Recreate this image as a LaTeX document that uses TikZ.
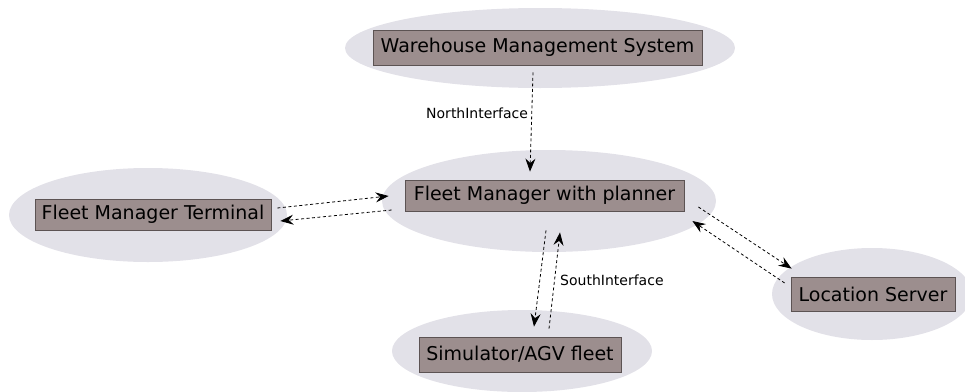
\documentclass[tikz,border=0pt]{standalone}
\usepackage{fontspec}
\setmainfont{DejaVu Sans}
\usetikzlibrary{arrows.meta}

\definecolor{cloudgray}{HTML}{E2E1E8}
\definecolor{boxfill}{HTML}{9C8E8E}
\definecolor{boxline}{HTML}{5C5353}

\begin{document}
\begin{tikzpicture}[x=1pt,y=-1pt,
  box/.style={draw=boxline,fill=boxfill,line width=0.8pt,inner sep=0pt,font=\fontsize{19}{22}\selectfont},
  link/.style={dashed,dash pattern=on 3pt off 2.5pt,line width=0.8pt,-{Stealth[length=13pt,width=10pt,inset=4.5pt]}},
  iface/.style={font=\fontsize{14}{16}\selectfont}]
  \useasboundingbox (0,0) rectangle (965,391);
  \clip (0,0) rectangle (965,391);

  \fill [cloudgray] (540,48) ellipse [x radius=195,y radius=40];
  \fill [cloudgray] (148,215) ellipse [x radius=139,y radius=47];
  \fill [cloudgray] (549,201) ellipse [x radius=167,y radius=51];
  \fill [cloudgray] (522,351) ellipse [x radius=130,y radius=41];
  \fill [cloudgray] (872,294) ellipse [x radius=100,y radius=46];

  \node [box,minimum width=329pt,minimum height=35pt] (wms) at (537.5,47.5) {Warehouse Management System};
  \node [box,minimum width=236pt,minimum height=31pt] (fmt) at (153,214.5) {Fleet Manager Terminal};
  \node [box,minimum width=279pt,minimum height=31pt] (fm) at (544.5,195.5) {Fleet Manager with planner};
  \node [box,minimum width=202pt,minimum height=35pt] (sim) at (520,354.5) {Simulator/AGV fleet};
  \node [box,minimum width=164pt,minimum height=34pt] (ls) at (873,294) {Location Server};

  \draw [link] ([xshift=-4.5pt,yshift=-7pt]wms.south) -- ([xshift=-14.5pt,yshift=8pt]fm.north)
    node [iface,pos=0.41,left] (north) {NorthInterface};

  \draw [link] ([xshift=6pt,yshift=6.5pt]fmt.east) -- ([xshift=-16pt,yshift=-0.5pt]fm.west);
  \draw [link] ([xshift=-13pt,yshift=-14.5pt]fm.west) -- ([xshift=9pt,yshift=-6.5pt]fmt.east);

  \draw [link] ([xshift=1.5pt,yshift=-19pt]fm.south) -- ([xshift=14pt,yshift=10pt]sim.north);
  \draw [link] ([xshift=29pt,yshift=8pt]sim.north) -- ([xshift=15.5pt,yshift=-21pt]fm.south)
    node [iface,pos=0.5,right,xshift=2pt] (south) {SouthInterface};

  \draw [link] ([xshift=14pt,yshift=-11.5pt]fm.east) -- ([xshift=1pt,yshift=8pt]ls.north west);
  \draw [link] ([xshift=-6pt,yshift=11pt]ls.west) -- ([xshift=8pt,yshift=-25.5pt]fm.east);

\end{tikzpicture}
\end{document}
